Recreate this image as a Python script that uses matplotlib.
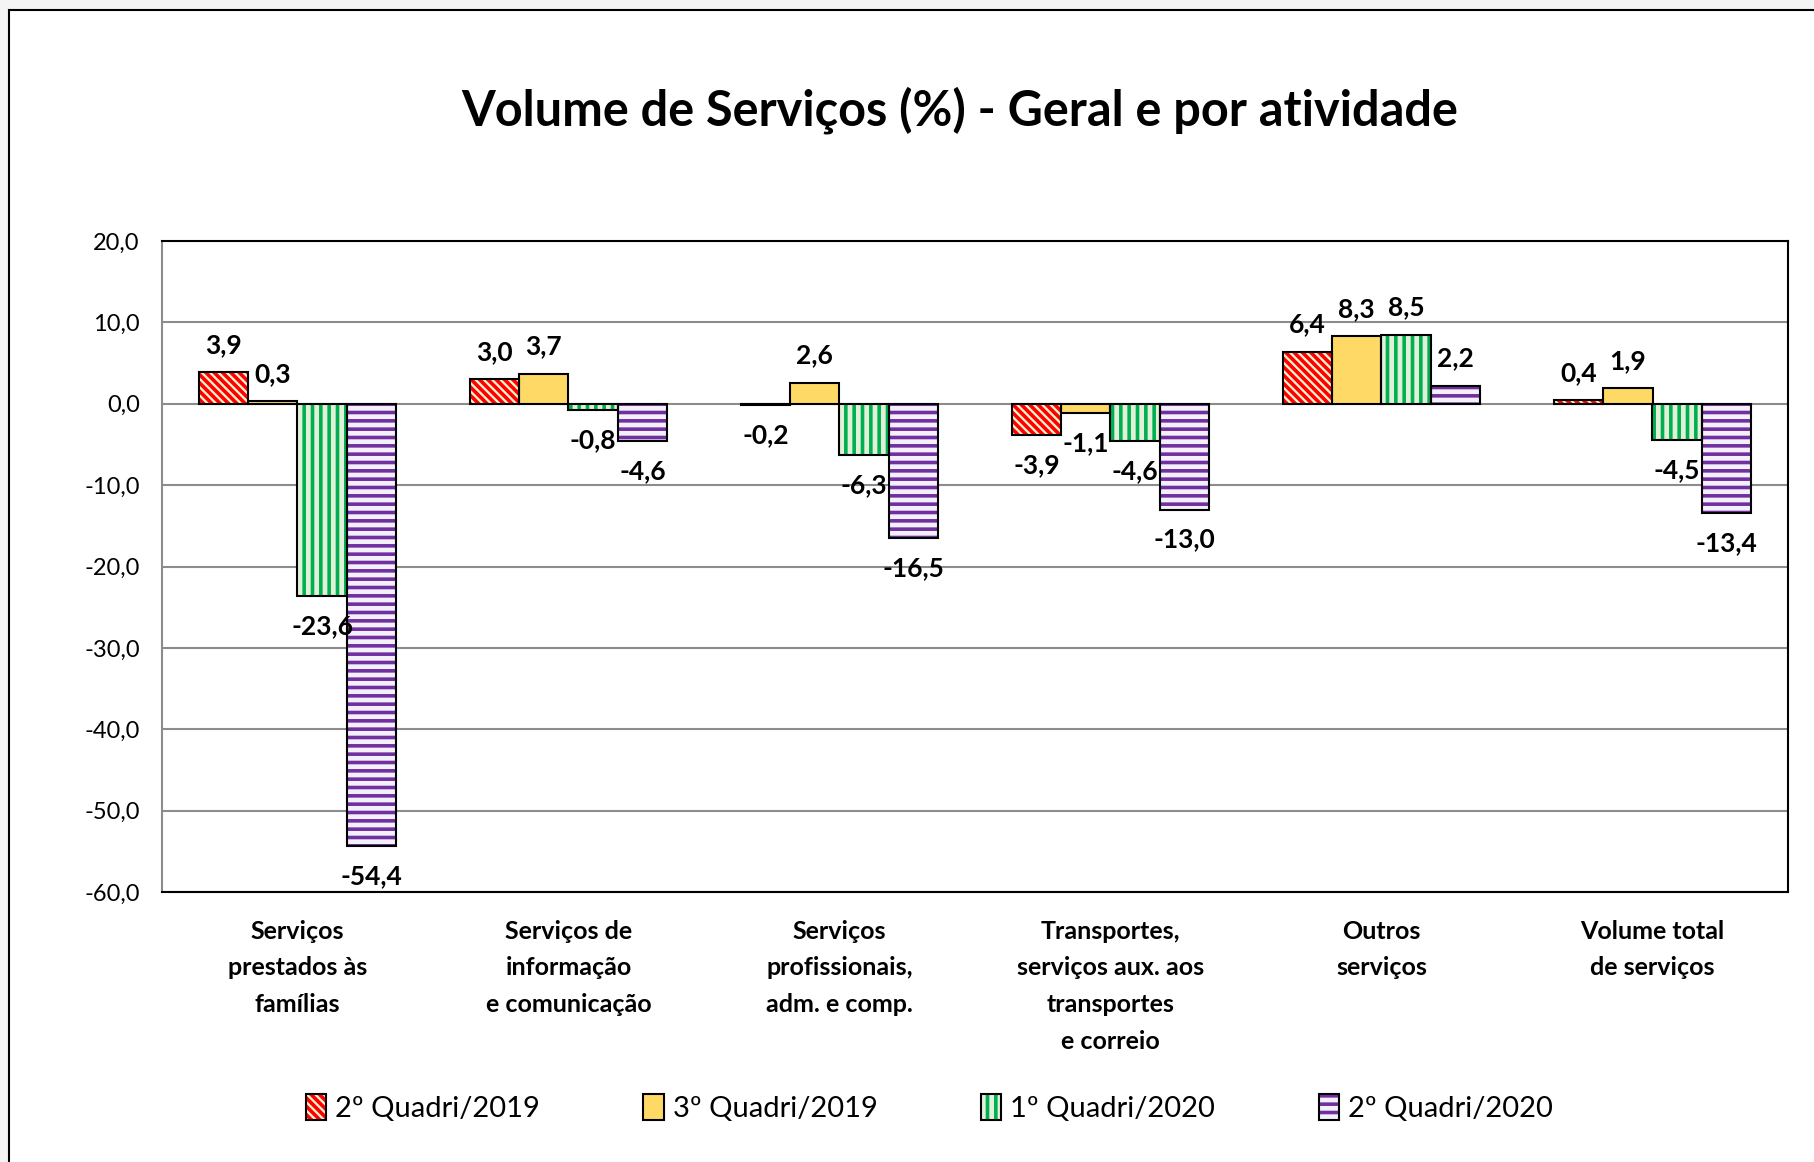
import numpy as np
import matplotlib
matplotlib.use("Agg")
import matplotlib.pyplot as plt
from matplotlib.patches import Rectangle
from matplotlib.legend_handler import HandlerTuple

categorias = ["Serviços\nprestados às\nfamílias",
              "Serviços de\ninformação\ne comunicação",
              "Serviços\nprofissionais,\nadm. e comp.",
              "Transportes,\nserviços aux. aos\ntransportes\ne correio",
              "Outros\nserviços",
              "Volume total\nde serviços"]
series = ["2º Quadri/2019", "3º Quadri/2019", "1º Quadri/2020", "2º Quadri/2020"]

q2_2019 = [3.9, 3.0, -0.2, -3.9, 6.4, 0.4]
q3_2019 = [0.3, 3.7, 2.6, -1.1, 8.3, 1.9]
q1_2020 = [-23.6, -0.8, -6.3, -4.6, 8.5, -4.5]
q2_2020 = [-54.4, -4.6, -16.5, -13.0, 2.2, -13.4]

yticks = [20, 10, 0, -10, -20, -30, -40, -50, -60]

# estilos (face, cor do hachurado, hachura)
estilos = [("#fff2cc", "#ff0000", "\\\\\\\\"),
           ("#ffd966", "#ffd966", ""),
           ("#e2f0d9", "#00b050", "||"),
           ("#f4f0fa", "#7030a0", "--")]

plt.rcParams["hatch.linewidth"] = 2.6
fonte = ["Lato", "DejaVu Sans"]

fig = plt.figure(figsize=(18.15, 11.62), dpi=100, facecolor="#f4f4f4")
moldura = Rectangle((9 / 1815, -0.1), 1.1, 1.1 - 10 / 1162,
                    transform=fig.transFigure, facecolor="white",
                    edgecolor="black", linewidth=1.5, zorder=-5)
fig.patches.append(moldura)
ax = fig.add_axes([162 / 1815, 1 - 892 / 1162, (1788 - 162) / 1815, (892 - 241) / 1162])
ax.set_zorder(2)
ax.patch.set_facecolor("white")

x = np.arange(len(categorias))
w = 0.1825
dados = [q2_2019, q3_2019, q1_2020, q2_2020]
handles = []
for i, vals in enumerate(dados):
    face, hc, hatch = estilos[i]
    pos = x + (i - 1.5) * w
    b1 = ax.bar(pos, vals, w, color=face, edgecolor=hc, hatch=hatch, linewidth=0, zorder=2)
    b2 = ax.bar(pos, vals, w, fill=False, edgecolor="black", linewidth=1.5, zorder=3)
    handles.append((b1[0], b2[0]))
    for p, v in zip(pos, vals):
        txt = f"{v:.1f}".replace(".", ",")
        off = 11 if v >= 0 else -13
        ax.annotate(txt, (p, v), xytext=(0, off), textcoords="offset points",
                    ha="center", va="bottom" if v >= 0 else "top",
                    fontsize=19, fontweight="bold", family=fonte, zorder=4)

ax.set_xlim(-0.5, len(categorias) - 0.5)
ax.set_ylim(-60, 20)
ax.set_yticks(yticks)
ax.set_yticklabels([f"{t:.1f}".replace(".", ",") for t in yticks], family=fonte, fontsize=17)
ax.yaxis.grid(True, color="#8c8c8c", linewidth=1.5, zorder=1)
ax.set_axisbelow(True)
ax.set_xticks(x)
ax.set_xticklabels(categorias, family=fonte, fontsize=18, fontweight="bold", linespacing=1.72)
ax.tick_params(axis="both", length=0)
ax.tick_params(axis="y", pad=16)
ax.tick_params(axis="x", pad=20)
for s in ["top", "right", "bottom"]:
    ax.spines[s].set_color("black")
    ax.spines[s].set_linewidth(1.5)
ax.spines["left"].set_color("#8c8c8c")
ax.spines["left"].set_linewidth(1.5)

fig.text(0.529, 0.905, "Volume de Serviços (%) - Geral e por atividade", ha="center", va="center",
         fontsize=35, fontweight="bold", family=fonte)

fig.legend(handles=handles, labels=series, handler_map={tuple: HandlerTuple(ndivide=1)},
           loc="center", bbox_to_anchor=(0.512, 1 - 1108 / 1162), ncol=4, frameon=False,
           prop={"family": fonte, "size": 21}, handlelength=0.7, handleheight=1.0,
           handletextpad=0.3, columnspacing=3.55)

fig.savefig("out.png", dpi=100, facecolor=fig.get_facecolor())
